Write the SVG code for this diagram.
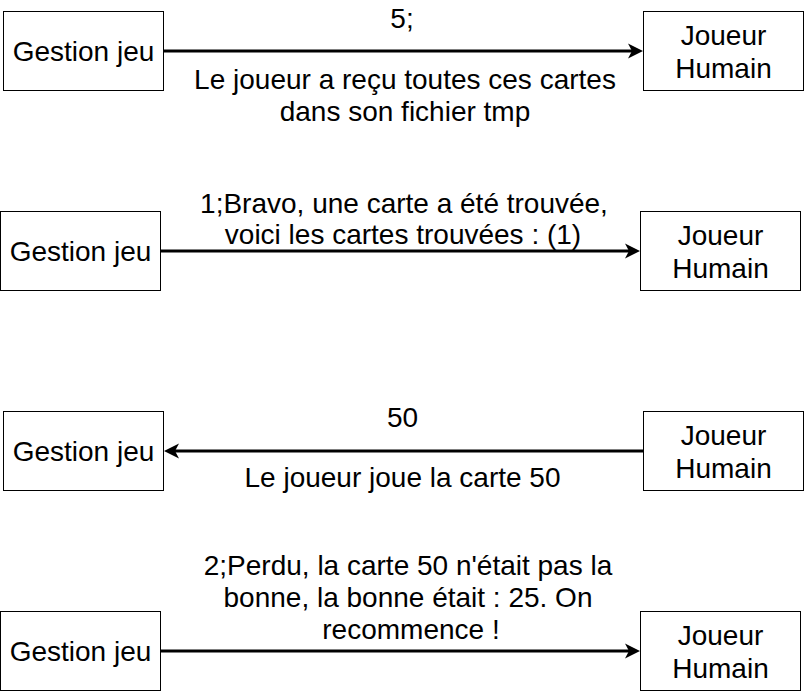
<svg xmlns="http://www.w3.org/2000/svg" width="804" height="692" viewBox="0 0 804 692">
<style>
.box{fill:#fff;stroke:#000;stroke-width:1}
text{font-family:"Liberation Sans",Arial,sans-serif;font-size:28px;fill:#000;text-anchor:middle}
.edge{stroke:#000;stroke-width:3;fill:none}
</style>
<defs>
<marker id="ah" markerUnits="userSpaceOnUse" markerWidth="20" markerHeight="20" refX="11" refY="8" orient="auto">
<path d="M15,8 L0,0.5 L4,8 L0,15.5 Z" fill="#000"/>
</marker>
</defs>
<rect width="804" height="692" fill="#fff"/>
<g id="gestion1"><rect class="box" x="3.5" y="11.5" width="160" height="79"/><text x="83.5" y="61">Gestion jeu</text></g>
<g id="joueur1"><rect class="box" x="643.5" y="11.5" width="160" height="79"/><text x="723.5" y="45">Joueur</text><text x="723.5" y="77.5">Humain</text></g>
<g id="gestion2"><rect class="box" x="0.5" y="211.5" width="160" height="79"/><text x="80.5" y="261">Gestion jeu</text></g>
<g id="joueur2"><rect class="box" x="640.5" y="211.5" width="160" height="79"/><text x="720.5" y="245">Joueur</text><text x="720.5" y="277.5">Humain</text></g>
<g id="gestion3"><rect class="box" x="3.5" y="411.5" width="160" height="79"/><text x="83.5" y="461">Gestion jeu</text></g>
<g id="joueur3"><rect class="box" x="643.5" y="411.5" width="160" height="79"/><text x="723.5" y="445">Joueur</text><text x="723.5" y="477.5">Humain</text></g>
<g id="gestion4"><rect class="box" x="0.5" y="611.5" width="160" height="79"/><text x="80.5" y="661">Gestion jeu</text></g>
<g id="joueur4"><rect class="box" x="640.5" y="611.5" width="160" height="79"/><text x="720.5" y="645">Joueur</text><text x="720.5" y="677.5">Humain</text></g>
<g id="connectors">
<path class="edge" d="M163.5,51 L639,51" marker-end="url(#ah)"/>
<path class="edge" d="M160.5,251 L636,251" marker-end="url(#ah)"/>
<path class="edge" d="M643.5,451 L168,451" marker-end="url(#ah)"/>
<path class="edge" d="M160.5,651 L636,651" marker-end="url(#ah)"/>
<text x="402" y="28">5;</text>
<text x="405" y="88.5">Le joueur a reçu toutes ces cartes</text>
<text x="405" y="121">dans son fichier tmp</text>
<text x="404" y="213">1;Bravo, une carte a été trouvée,</text>
<text x="403" y="244">voici les cartes trouvées : (1)</text>
<text x="402.5" y="427">50</text>
<text x="402.5" y="487">Le joueur joue la carte 50</text>
<text x="408" y="574.5">2;Perdu, la carte 50 n'était pas la</text>
<text x="408" y="607">bonne, la bonne était : 25. On</text>
<text x="411" y="639">recommence !</text>
</g>
</svg>
